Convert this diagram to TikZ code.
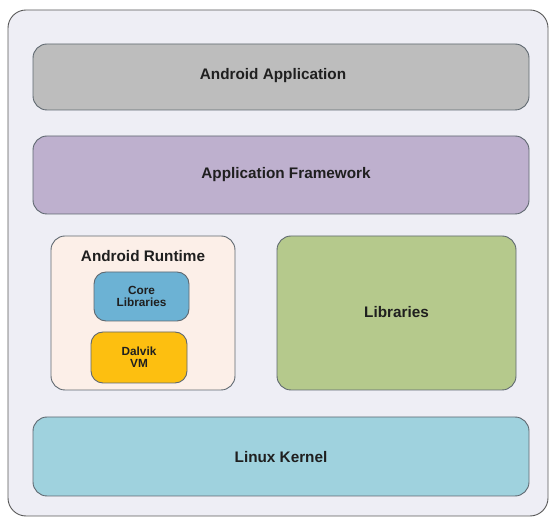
\documentclass[tikz,border=0pt]{standalone}
\usepackage{fontspec}
\setmainfont{Liberation Sans}
\definecolor{bgc}{HTML}{EEEEF5}
\definecolor{edgec}{HTML}{5F6870}
\definecolor{appc}{HTML}{BDBDBD}
\definecolor{fwc}{HTML}{BEB0CE}
\definecolor{rtc}{HTML}{FCEFE8}
\definecolor{corec}{HTML}{6CB2D4}
\definecolor{dvc}{HTML}{FDBF10}
\definecolor{libc}{HTML}{B5C98C}
\definecolor{kerc}{HTML}{9FD2DE}
\tikzset{
  layer/.style={draw=edgec, line width=0.9pt, rounded corners=14pt},
  lbl/.style={font=\bfseries\fontsize{15.3}{17}\selectfont, text=black!88, align=center},
  small/.style={font=\bfseries\fontsize{11.8}{13}\selectfont, text=black!88, align=center},
}
\begin{document}
\begin{tikzpicture}[x=1pt,y=-1pt]
\useasboundingbox (0,0) rectangle (552,518);
\fill[white] (0,0) rectangle (552,518);
\draw[layer, fill=bgc, draw=gray!70!black, rounded corners=18pt] (8,10) rectangle (548,516);
\draw[layer, fill=appc] (33,44) rectangle (529,110);
\node[lbl] (app) at (273,76) {Android Application};
\draw[layer, fill=fwc] (33,136) rectangle (529,214);
\node[lbl] (fw) at (286,175) {Application Framework};
\draw[layer, fill=rtc] (51,236) rectangle (235,390);
\node[lbl] (rt) at (143,256) {Android Runtime};
\draw[layer, fill=corec, rounded corners=12pt] (94,272) rectangle (189,321);
\node[small] (core) at (141.5,296.5) {Core\\[-1pt]Libraries};
\draw[layer, fill=dvc, rounded corners=12pt] (91,332) rectangle (187,383);
\node[small] (dv) at (139,357.5) {Dalvik\\[-1pt]VM};
\draw[layer, fill=libc] (277,236) rectangle (516,390);
\node[lbl] (lib) at (396.5,312) {Libraries};
\draw[layer, fill=kerc] (33,417) rectangle (529,496);
\node[lbl] (ker) at (281,457) {Linux Kernel};
\end{tikzpicture}
\end{document}
